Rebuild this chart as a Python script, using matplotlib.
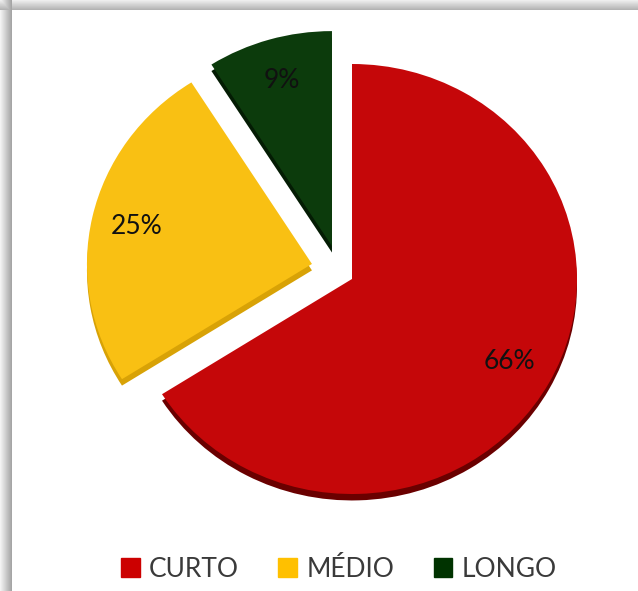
import numpy as np
import matplotlib.pyplot as plt

categories = ['CURTO', 'MÉDIO', 'LONGO']
shares = [66, 25, 9]
colors = ['#c50709', '#f9c013', '#0c3b0c']
side_colors = ['#6a0000', '#d8a206', '#041c04']
legend_colors = ['#cc0000', '#ffc000', '#003300']
# how far each slice is pulled out of the pie (radius units)
shifts = [(0, 0), (-0.178, 0.07), (-0.089, 0.153)]
depth = 0.03

W, H = 638, 591
fig = plt.figure(figsize=(W / 100, H / 100), dpi=100)

# panel background with a soft drop shadow on the top and left edges
bg = fig.add_axes([0, 0, 1, 1])
yy, xx = np.mgrid[0:H, 0:W]
img = np.ones((H, W))
top = yy < 10
left = xx < 12
img[top] = 0.93 - 0.25 * (yy[top] / 10)
img[left] = np.minimum(img[left], 0.95 - 0.33 * (xx[left] / 12))
bg.imshow(img, cmap='gray', vmin=0, vmax=1, extent=(0, W, H, 0), aspect='auto',
          interpolation='bilinear')
bg.set_axis_off()

# pie axes: slightly flattened, 225 px wide / 215 px tall per radius unit
ax = fig.add_axes([0, 0, 1, 1])
rx, ry = 225, 215
cx, cy = 352, 279

side_wedges, _ = ax.pie(shares, colors=side_colors, startangle=90, counterclock=False,
                        wedgeprops=dict(linewidth=0))
wedges, _, autotexts = ax.pie(shares, colors=colors, startangle=90, counterclock=False,
                              autopct='%.0f%%', pctdistance=0.8,
                              wedgeprops=dict(linewidth=0),
                              textprops=dict(fontsize=19, color='#111111', family='Lato'))

for ws, w, t, (dx, dy) in zip(side_wedges, wedges, autotexts, shifts):
    ws.set_center((dx, dy - depth))
    w.set_center((dx, dy))
    px, py = t.get_position()
    t.set_position((px + dx, py + dy))

ax.set_xlim(-cx / rx, (W - cx) / rx)
ax.set_ylim(-(H - cy) / ry, cy / ry)
ax.set_aspect('auto')
ax.set_axis_off()

handles = [plt.Rectangle((0, 0), 1, 1, color=c) for c in legend_colors]
fig.legend(handles, categories, loc='center', bbox_to_anchor=(0.531, 0.037), ncol=3,
           frameon=False, handlelength=0.7, handleheight=0.7, handletextpad=0.35,
           columnspacing=1.5, prop=dict(family='Lato', size=19), labelcolor='#3a3a3a')

fig.savefig('out.png', dpi=100)
